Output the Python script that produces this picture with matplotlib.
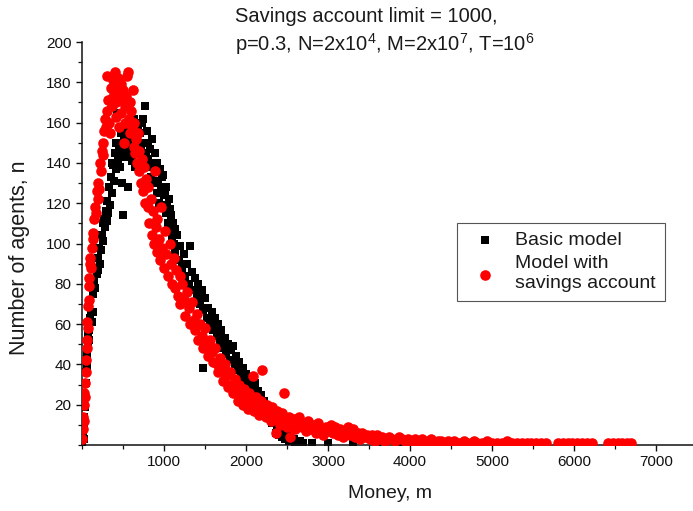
import matplotlib
matplotlib.use("Agg")
import matplotlib.pyplot as plt
from matplotlib.ticker import FixedLocator, MultipleLocator

plt.rcParams['font.family'] = ['Liberation Sans', 'DejaVu Sans']

# Basic model: number of agents per money bin
basic_m = [5, 10, 15, 20, 25, 30, 35, 40, 45, 50, 55, 60, 65, 70, 75, 80, 85, 90, 100, 110,
           120, 130, 140, 150, 160, 170, 180, 190, 200, 210, 220, 230, 240, 250, 260, 270, 280, 290, 300, 310,
           320, 330, 340, 350, 360, 370, 380, 390, 400, 410, 420, 430, 440, 450, 460, 470, 480, 490, 500, 510,
           520, 530, 540, 550, 560, 570, 580, 590, 600, 610, 620, 630, 640, 650, 660, 670, 680, 690, 700, 710,
           720, 730, 745, 760, 770, 780, 790, 800, 810, 820, 830, 840, 855, 870, 880, 890, 900, 910, 920, 930,
           940, 950, 960, 970, 980, 990, 1000, 1010, 1020, 1030, 1040, 1050, 1060, 1070, 1080, 1090, 1100, 1110, 1120, 1130,
           1140, 1160, 1180, 1200, 1220, 1240, 1260, 1280, 1300, 1320, 1340, 1360, 1380, 1400, 1420, 1440, 1460, 1475, 1480, 1500,
           1520, 1540, 1560, 1580, 1600, 1620, 1640, 1660, 1680, 1700, 1720, 1740, 1760, 1780, 1800, 1820, 1840, 1860, 1880, 1900,
           1920, 1940, 1960, 1980, 2000, 2020, 2040, 2060, 2080, 2100, 2110, 2120, 2140, 2160, 2180, 2200, 2220, 2240, 2260, 2280,
           2300, 2320, 2340, 2360, 2380, 2400, 2420, 2440, 2460, 2480, 2500, 2520, 2540, 2560, 2580, 2600, 2620, 2640, 2660, 2680,
           2700, 2800, 3000, 3300, 3600, 3900, 4200, 6100]
basic_n = [1, 4, 7, 3, 9, 14, 19, 25, 31, 36, 42, 38, 46, 50, 55, 52, 60, 57, 63, 66,
           61, 75, 66, 82, 78, 88, 85, 93, 87, 98, 90, 97, 104, 110, 101, 112, 108, 116, 111, 121,
           115, 128, 119, 133, 125, 140, 139, 131, 145, 137, 150, 165, 142, 148, 138, 155, 146, 130, 114, 152,
           143, 150, 158, 146, 128, 154, 144, 160, 150, 141, 157, 148, 162, 138, 152, 145, 158, 150, 140, 155,
           147, 160, 162, 150, 168, 145, 156, 142, 150, 138, 147, 133, 152, 140, 130, 145, 136, 125, 140, 131,
           120, 137, 127, 133, 118, 134, 124, 126, 115, 128, 119, 110, 122, 117, 106, 114, 103, 110, 100, 107,
           96, 104, 92, 99, 88, 95, 84, 90, 80, 99, 86, 77, 83, 74, 80, 70, 77, 38, 67, 73,
           63, 68, 60, 66, 57, 63, 54, 60, 51, 57, 48, 53, 45, 50, 42, 47, 49, 40, 44, 37,
           41, 34, 38, 31, 35, 28, 32, 26, 29, 33, 31, 24, 27, 21, 25, 19, 22, 16, 19, 14,
           17, 11, 14, 6, 10, 5, 8, 4, 6, 3, 5, 2, 4, 2, 3, 1, 2, 1, 2, 1,
           1, 1, 1, 1, 1, 1, 1, 1]

# Model with savings account
saving_m = [5, 10, 15, 20, 25, 30, 35, 40, 45, 50, 55, 60, 65, 70, 75, 80, 85, 90, 95, 100,
            110, 120, 130, 140, 150, 160, 170, 180, 190, 200, 210, 220, 230, 240, 250, 260, 270, 280, 290, 300,
            310, 320, 330, 340, 350, 360, 370, 380, 390, 400, 410, 420, 430, 440, 450, 460, 470, 480, 490, 500,
            510, 520, 530, 540, 550, 560, 570, 580, 590, 600, 610, 620, 630, 640, 650, 660, 670, 680, 690, 700,
            720, 730, 740, 760, 770, 780, 800, 810, 820, 840, 850, 860, 880, 890, 900, 910, 920, 940, 950, 960,
            980, 1000, 1010, 1030, 1050, 1070, 1080, 1100, 1120, 1140, 1150, 1170, 1190, 1200, 1220, 1240, 1260, 1280, 1300, 1320,
            1340, 1360, 1380, 1400, 1420, 1440, 1460, 1480, 1500, 1520, 1540, 1560, 1580, 1600, 1620, 1640, 1660, 1680, 1700, 1720,
            1740, 1760, 1780, 1800, 1820, 1840, 1860, 1880, 1900, 1920, 1940, 1960, 1980, 2000, 2020, 2040, 2060, 2080, 2100, 2120,
            2140, 2160, 2180, 2200, 2220, 2240, 2260, 2280, 2300, 2320, 2340, 2360, 2380, 2400, 2420, 2440, 2460, 2480, 2500, 2520,
            2540, 2560, 2580, 2600, 2620, 2650, 2680, 2700, 2730, 2760, 2790, 2820, 2850, 2880, 2910, 2940, 2970, 3000, 3030, 3060,
            3090, 3120, 3150, 3180, 3210, 3240, 3270, 3300, 3330, 3360, 3390, 3420, 3450, 3480, 3510, 3540, 3570, 3600, 3630, 3660,
            3700, 3740, 3780, 3820, 3860, 3900, 3940, 3980, 4020, 4060, 4100, 4140, 4180, 4220, 4260, 4300, 4340, 4380, 4420, 4460,
            4500, 4540, 4580, 4620, 4660, 4700, 4740, 4780, 4820, 4880, 4940, 5000, 5060, 5120, 5180, 5240, 5300, 5360, 5420, 5480,
            5540, 5600, 5660, 5800, 5860, 5920, 5980, 6040, 6100, 6160, 6220, 6410, 6470, 6530, 6590, 6650, 6700]
saving_n = [3, 8, 14, 12, 20, 26, 31, 24, 36, 42, 52, 48, 61, 58, 69, 72, 79, 83, 90, 93,
            88, 98, 105, 102, 112, 118, 115, 126, 122, 130, 127, 140, 136, 146, 150, 144, 156, 162, 158, 183,
            166, 171, 160, 155, 177, 172, 168, 181, 175, 185, 163, 170, 178, 182, 158, 174, 165, 179, 171, 176,
            150, 168, 160, 173, 183, 185, 162, 170, 155, 166, 158, 176, 148, 160, 145, 152, 140, 155, 136, 146,
            130, 142, 126, 138, 120, 132, 118, 128, 110, 122, 104, 116, 100, 136, 108, 96, 112, 102, 92, 118,
            98, 88, 106, 95, 84, 100, 90, 80, 93, 78, 87, 74, 84, 70, 80, 72, 64, 76, 68, 60,
            71, 62, 57, 65, 52, 60, 54, 48, 58, 50, 44, 52, 46, 41, 48, 40, 36, 43, 38, 32,
            40, 34, 29, 36, 30, 26, 33, 27, 22, 30, 25, 20, 28, 23, 18, 26, 21, 34, 17, 24,
            19, 15, 22, 37, 18, 14, 20, 16, 12, 19, 15, 6, 17, 13, 10, 16, 26, 12, 9, 14,
            4, 11, 13, 8, 12, 14, 9, 11, 7, 12, 8, 10, 6, 11, 8, 5, 9, 7, 10, 6,
            9, 5, 8, 4, 7, 9, 5, 8, 4, 6, 3, 6, 4, 5, 3, 5, 2, 5, 3, 4,
            2, 4, 3, 2, 4, 3, 2, 3, 1, 3, 2, 3, 1, 2, 3, 1, 2, 2, 1, 2,
            1, 2, 1, 1, 2, 1, 1, 2, 1, 1, 2, 1, 1, 1, 2, 1, 1, 1, 1, 1,
            1, 1, 1, 1, 1, 1, 1, 1, 1, 1, 1, 1, 1, 1, 1, 1, 1]

x_ticks = [1000, 2000, 3000, 4000, 5000, 6000, 7000]
y_ticks = [20, 40, 60, 80, 100, 120, 140, 160, 180, 200]

W, H = 693, 511
fig = plt.figure(figsize=(W / 100, H / 100), dpi=100)
ax = fig.add_axes([82 / W, (H - 445) / H, 1 - 82 / W, (445 - 42) / H])

ax.scatter(basic_m, basic_n, marker='s', s=34, color='black', linewidths=0,
           label='Basic model', zorder=2)
ax.scatter(saving_m, saving_n, marker='o', s=58, color='#ff0000', linewidths=0,
           label='Model with\nsavings account', zorder=3)

ax.set_xlim(0, 7450)
ax.set_ylim(0, 200)
ax.xaxis.set_major_locator(FixedLocator(x_ticks))
ax.yaxis.set_major_locator(FixedLocator(y_ticks))
ax.xaxis.set_minor_locator(MultipleLocator(500))
ax.yaxis.set_minor_locator(MultipleLocator(10))
for side in ('top', 'right'):
    ax.spines[side].set_visible(False)
for side in ('left', 'bottom'):
    ax.spines[side].set_linewidth(1.1)
    ax.spines[side].set_color('#111111')
ax.tick_params(which='major', direction='out', length=4.5, width=1.0,
               labelsize=11, colors='#111111', pad=3)
ax.tick_params(which='minor', direction='out', length=2.8, width=0.9, colors='#111111')

fig.text(20 / W, 1 - 258 / H, 'Number of agents, n', rotation=90,
         ha='center', va='center', fontsize=15.5, color='#1a1a1a')
fig.text(390 / W, 1 - 494 / H, 'Money, m', ha='center', va='center',
         fontsize=14, color='#1a1a1a')

fig.text(235 / W, 1 - 17 / H, 'Savings account limit = 1000,', ha='left', va='center',
         fontsize=14.5, color='#1a1a1a')
fig.text(235 / W, 1 - 44 / H,
         r'p=0.3, N=2x10$\mathregular{^4}$, M=2x10$\mathregular{^7}$, T=10$\mathregular{^6}$',
         ha='left', va='center', fontsize=14.5, color='#1a1a1a')

leg = ax.legend(loc='upper left', bbox_to_anchor=(457 / W, 1 - 223 / H),
                bbox_transform=fig.transFigure, borderaxespad=0, fontsize=14,
                frameon=True, fancybox=False, edgecolor='#555555', framealpha=1,
                handletextpad=0.55, labelspacing=0.3, borderpad=0.45, handlelength=2.0,
                markerscale=1.0)
leg.get_frame().set_linewidth(0.8)
for t in leg.get_texts():
    t.set_color('#1a1a1a')

fig.savefig('out.png', dpi=100)
